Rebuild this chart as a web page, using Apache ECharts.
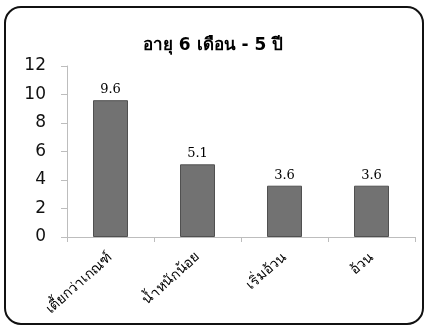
<!DOCTYPE html>
<html>
<head>
    <meta charset="UTF-8">
    <title>อายุ 6 เดือน - 5 ปี</title>
    <script src="https://cdn.jsdelivr.net/npm/echarts/dist/echarts.min.js"></script>
    <style>
        html, body { margin: 0; padding: 0; background: #fff; }
        #chart { width: 426px; height: 328px; }
    </style>
</head>
<body>
    <div id="chart"></div>
    <script>
        const titleText = 'อายุ 6 เดือน - 5 ปี';
        const categories = ['เตี้ยกว่าเกณฑ์', 'น้ำหนักน้อย', 'เริ่มอ้วน', 'อ้วน'];
        const values = [9.6, 5.1, 3.6, 3.6];
        const yMin = 0, yMax = 12, yStep = 2;

        const chart = echarts.init(document.getElementById('chart'));
        chart.setOption({
            backgroundColor: '#fff',
            animation: false,
            title: {
                text: titleText,
                left: 'center',
                top: 32,
                textStyle: { fontSize: 17, fontWeight: 'bold', color: '#000', fontFamily: 'DejaVu Sans' }
            },
            graphic: [{
                type: 'rect',
                shape: { x: 5, y: 7, width: 418, height: 317, r: 16 },
                style: { fill: 'none', stroke: '#111', lineWidth: 2 }
            }],
            grid: { left: 67, right: 11, top: 66, bottom: 91 },
            xAxis: {
                type: 'category',
                data: categories,
                boundaryGap: true,
                axisLine: { lineStyle: { color: '#bdbdbd' } },
                axisTick: { show: true, length: 5, lineStyle: { color: '#bdbdbd' } },
                axisLabel: { rotate: 42, fontSize: 14, color: '#000', margin: 18, fontFamily: 'sans-serif' }
            },
            yAxis: {
                type: 'value',
                min: yMin, max: yMax, interval: yStep,
                axisLine: { show: true, lineStyle: { color: '#bdbdbd' } },
                axisTick: { show: true, length: 6, lineStyle: { color: '#bdbdbd' } },
                splitLine: { show: false },
                axisLabel: { fontSize: 17, color: '#111', margin: 21, fontFamily: 'DejaVu Sans' }
            },
            series: [{
                type: 'bar',
                data: values,
                barWidth: 35,
                itemStyle: { color: '#727272', borderColor: '#505050', borderWidth: 1 },
                label: {
                    show: true, position: 'top', distance: 4,
                    fontSize: 13, color: '#000', fontFamily: 'DejaVu Serif',
                    formatter: p => p.value.toFixed(1)
                }
            }]
        });
    </script>
</body>
</html>
